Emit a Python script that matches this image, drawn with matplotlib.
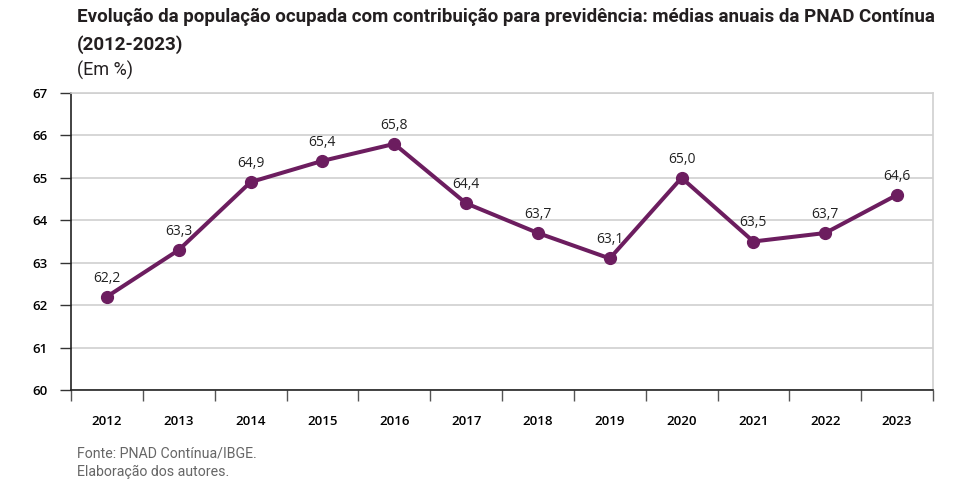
import matplotlib
matplotlib.use("Agg")
import matplotlib.pyplot as plt

years = ["2012", "2013", "2014", "2015", "2016", "2017", "2018", "2019", "2020", "2021", "2022", "2023"]
values = [62.2, 63.3, 64.9, 65.4, 65.8, 64.4, 63.7, 63.1, 65.0, 63.5, 63.7, 64.6]
value_labels = ["62,2", "63,3", "64,9", "65,4", "65,8", "64,4", "63,7", "63,1", "65,0", "63,5", "63,7", "64,6"]
yticks = [60, 61, 62, 63, 64, 65, 66, 67]

color = "#6C1D5F"
fig = plt.figure(figsize=(9.63, 4.88), dpi=100)
ax = fig.add_axes([71/963, 1-390/488, (933-71)/963, (390-93)/488])

x = list(range(len(years)))
ax.plot(x, values, color=color, lw=2.9, marker="o", ms=8.5, zorder=3)
for xi, v, lab in zip(x, values, value_labels):
    ax.annotate(lab, (xi, v), xytext=(0, 8), textcoords="offset points",
                ha="center", va="bottom", fontsize=10, family="Open Sans", color="#222222")

ax.set_xlim(-0.5, len(years) - 0.5)
ax.set_ylim(60, 67)
ax.set_yticks(yticks)
ax.set_yticklabels([str(t) for t in yticks], family="Open Sans", fontsize=9.5, fontweight="semibold")
ax.set_xticks(x)
ax.set_xticklabels(years, family="Open Sans", fontsize=9.5, fontweight="semibold")
ax.tick_params(axis="x", length=0, pad=18)
ax.set_xticks([i - 0.5 for i in range(len(years) + 1)], minor=True)
ax.tick_params(axis="x", which="minor", length=8, width=1, color="#555555")
ax.tick_params(axis="y", length=8, width=1, color="#333333", pad=9)
ax.grid(axis="y", color="#d0d0d0", lw=1.2)
ax.set_axisbelow(True)
for s in ["top", "right"]:
    ax.spines[s].set_color("#d0d0d0")
    ax.spines[s].set_linewidth(1.2)
for s in ["left", "bottom"]:
    ax.spines[s].set_color("#222222")
    ax.spines[s].set_linewidth(1.2)

fig.text(77/963, 1-22/488, "Evolução da população ocupada com contribuição para previdência: médias anuais da PNAD Contínua",
         family="Roboto", fontweight="bold", fontsize=13.5, color="#231f20", va="baseline")
fig.text(77/963, 1-50/488, "(2012-2023)", family="Roboto", fontweight="bold", fontsize=13.5,
         color="#231f20", va="baseline")
fig.text(77/963, 1-76/488, "(Em %)", family="Roboto", fontsize=13, color="#231f20", va="baseline")
fig.text(77/963, 1-457/488, "Fonte: PNAD Contínua/IBGE.", family="Roboto",
         fontsize=10.2, color="#666666", va="baseline")
fig.text(77/963, 1-476/488, "Elaboração dos autores.", family="Roboto",
         fontsize=10.2, color="#666666", va="baseline")

fig.savefig("out.png", dpi=100)
